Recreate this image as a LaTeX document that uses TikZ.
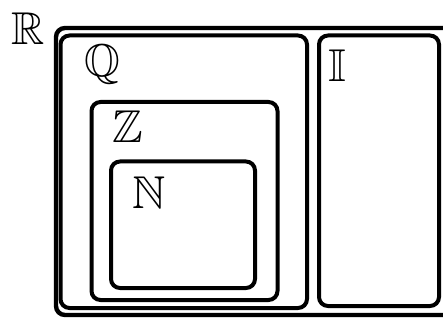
\documentclass[tikz,border=0pt]{standalone}
\usepackage{amsmath,amssymb}
\usepackage{tikz}
\tikzset{
  setbox/.style={draw=black, line width=4.4pt, rounded corners=9pt},
  setlbl/.style={font=\fontsize{46}{50}\selectfont, inner sep=0pt, anchor=base west}
}

\begin{document}
\begin{tikzpicture}[x=1pt, y=-1pt]
  \useasboundingbox (0,0) rectangle (443,320);
  \begin{scope}
    \clip (0,0) rectangle (443,320);
    % reals, with the two halves inside
    \draw[setbox] (56,28) rectangle (470,315);
    \draw[setbox, line width=4pt] (60.5,35.5) rectangle (307,308);
    \draw[setbox, line width=4pt] (319,35.5) rectangle (439,306);
    % integers and naturals
    \draw[setbox, line width=4pt] (91.5,102) rectangle (277.5,300);
    \draw[setbox, line width=4pt] (111,161.5) rectangle (255,288);
  \end{scope}

  \node[setlbl] (reals) at (11,45) {$\mathbb{R}$};
  \node[setlbl] (rats) at (84,77) {$\mathbb{Q}$};
  \node[setlbl] (irr) at (328,82) {$\mathbb{I}$};
  \node[setlbl] (ints) at (112,143) {$\mathbb{Z}$};
  \node[setlbl] (nats) at (132,208) {$\mathbb{N}$};
\end{tikzpicture}
\end{document}
